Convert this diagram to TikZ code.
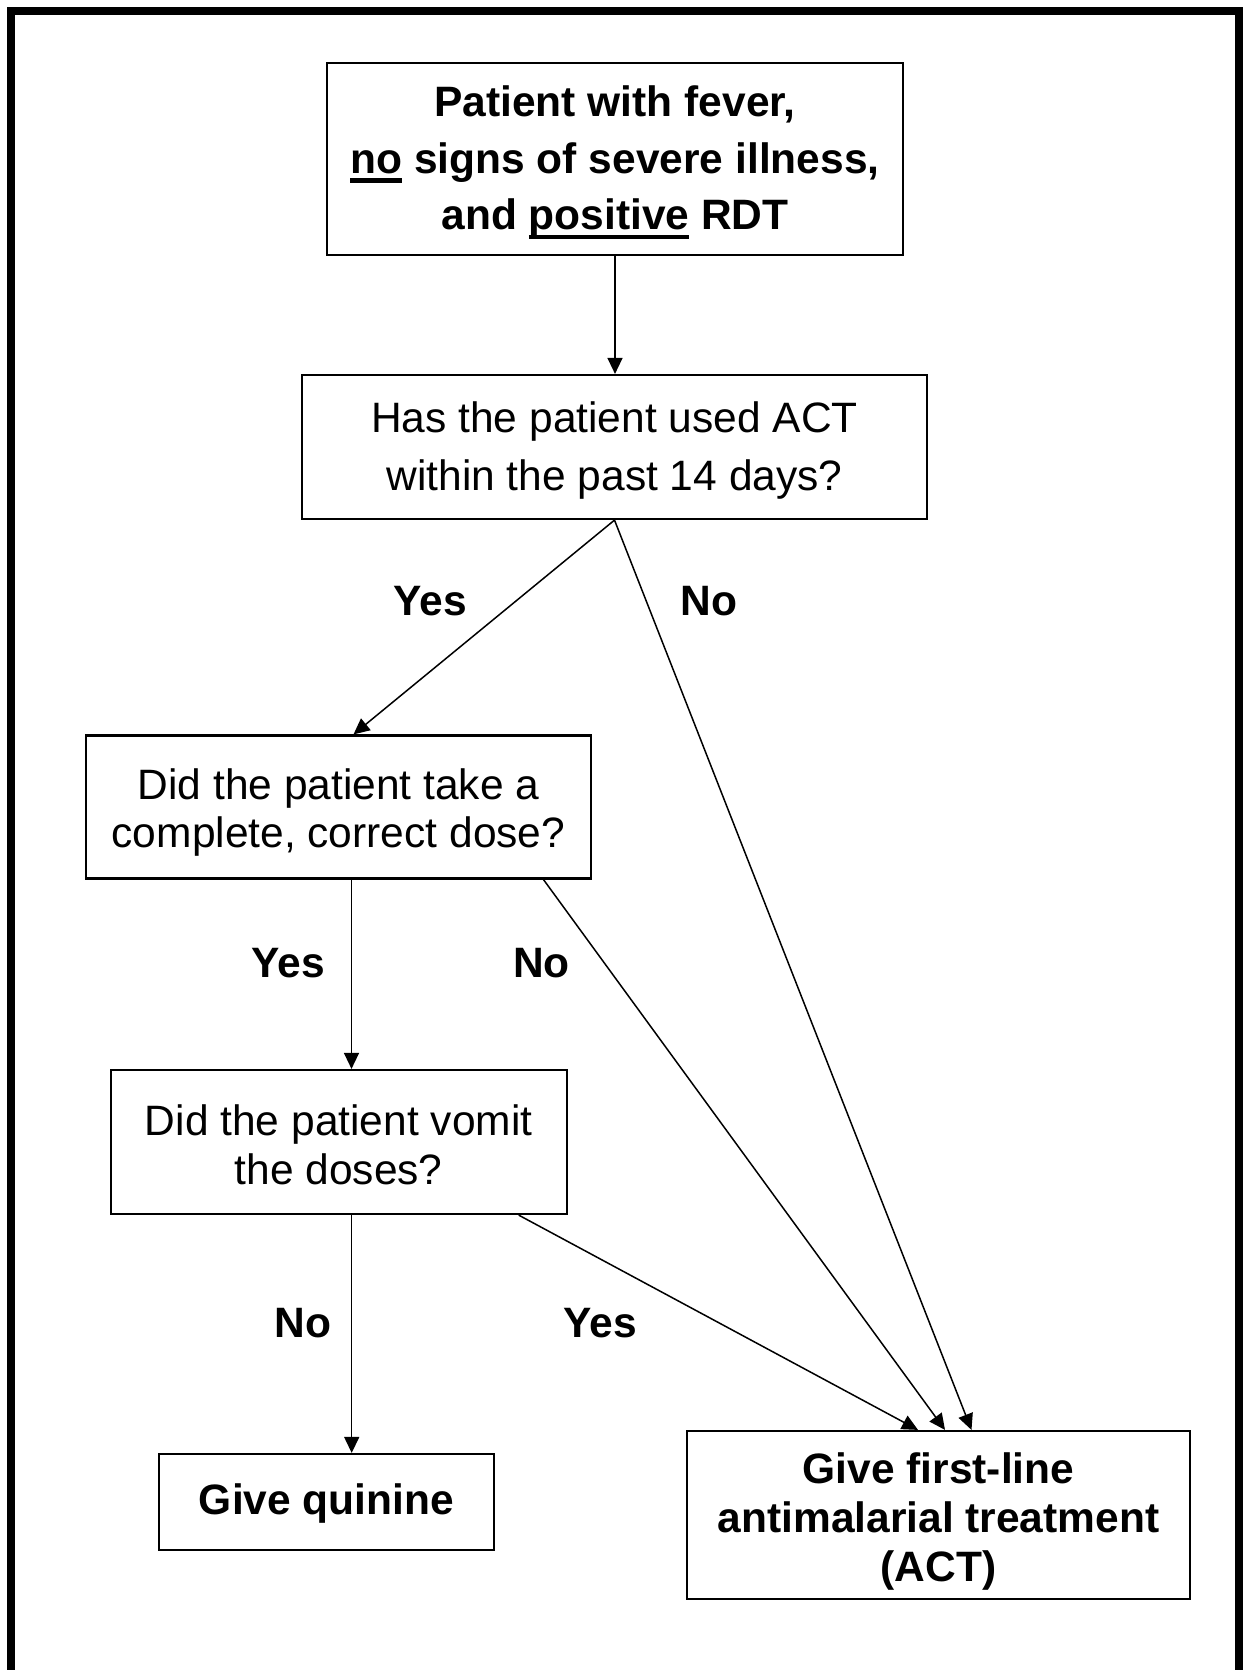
\documentclass[tikz,border=0pt]{standalone}
\usepackage{fontspec}
\setmainfont{Liberation Sans}
\usetikzlibrary{arrows.meta,calc}
\newcommand\ulx[1]{\setbox0\hbox{#1}\rlap{\rule[-9.5pt]{\wd0}{4.5pt}}\box0\relax}
\newcommand\toplh[1]{\vrule width0pt height#1pt depth0pt\relax}
\newcommand\botld{\vrule width0pt height0pt depth12pt\relax}
\begin{document}
\begin{tikzpicture}[x=1pt,y=-1pt,
  box/.style={draw, line width=2.2pt, inner sep=0pt, align=center},
  fnt/.style={font=\fontsize{42.5}{#1}\selectfont},
  bfnt/.style={font=\fontsize{42.5}{#1}\selectfont\bfseries},
  lbl/.style={font=\fontsize{42.5}{49}\selectfont\bfseries, inner sep=0pt, anchor=base},
  conn/.style={line width=1.5pt, -{Triangle[length=16pt,width=15pt]}}]
\useasboundingbox (0,0) rectangle (1245,1670);
\clip (0,0) rectangle (1245,1670);
\draw[line width=8pt] (11,1700) -- (11,11) -- (1239,11) -- (1239,1700);

\node[box, bfnt=56.5, minimum width=576pt, minimum height=192pt] (top) at (615,159)
  {\toplh{40.6}Patient with fever,\\ \ulx{no} signs of severe illness,\\ and \ulx{positive} RDT\botld};
\node[box, fnt=57.3, minimum width=625pt, minimum height=144pt] (q1) at (614.5,447)
  {\toplh{40.7}Has the patient used ACT\\ within the past 14 days?\botld};
\node[box, fnt=48.7, minimum width=505pt, minimum height=143pt] (q2) at (338.5,807)
  {\toplh{44.7}Did the patient take a\\ complete, correct dose?\botld};
\node[box, fnt=49, minimum width=456pt, minimum height=144pt] (q3) at (338.7,1142)
  {\toplh{48}Did the patient vomit\\ the doses?\botld};
\node[box, bfnt=49, minimum width=335pt, minimum height=96pt] (quin) at (326.5,1502)
  {\toplh{37}Give quinine\botld};
\node[box, bfnt=49, minimum width=503pt, minimum height=168pt] (act) at (938.5,1515)
  {\toplh{46}Give first-line\\ antimalarial treatment\\ (ACT)\botld};

\node[lbl] (y1) at (430,615) {Yes};
\node[lbl] (n1) at (709,615) {No};
\node[lbl] (y2) at (288,977) {Yes};
\node[lbl] (n2) at (541.5,977) {No};
\node[lbl] (n3) at (303,1337) {No};
\node[lbl] (y3) at (600,1337) {Yes};

\draw[conn] (top.south) -- (top.south |- q1.north);
\draw[conn] (q1.south) -- ([xshift=15pt]q2.north);
\draw[conn] (q1.south) -- ([xshift=33pt]act.north);
\draw[conn] ([xshift=13pt]q2.south) -- ([xshift=13pt]q2.south |- q3.north);
\draw[conn] ([xshift=205pt]q2.south) -- ([xshift=6.5pt]act.north);
\draw[conn] ([xshift=13pt]q3.south) -- ([xshift=13pt]q3.south |- quin.north);
\draw[conn] ([xshift=180pt]q3.south) -- ([xshift=-20.5pt]act.north);
\end{tikzpicture}
\end{document}
